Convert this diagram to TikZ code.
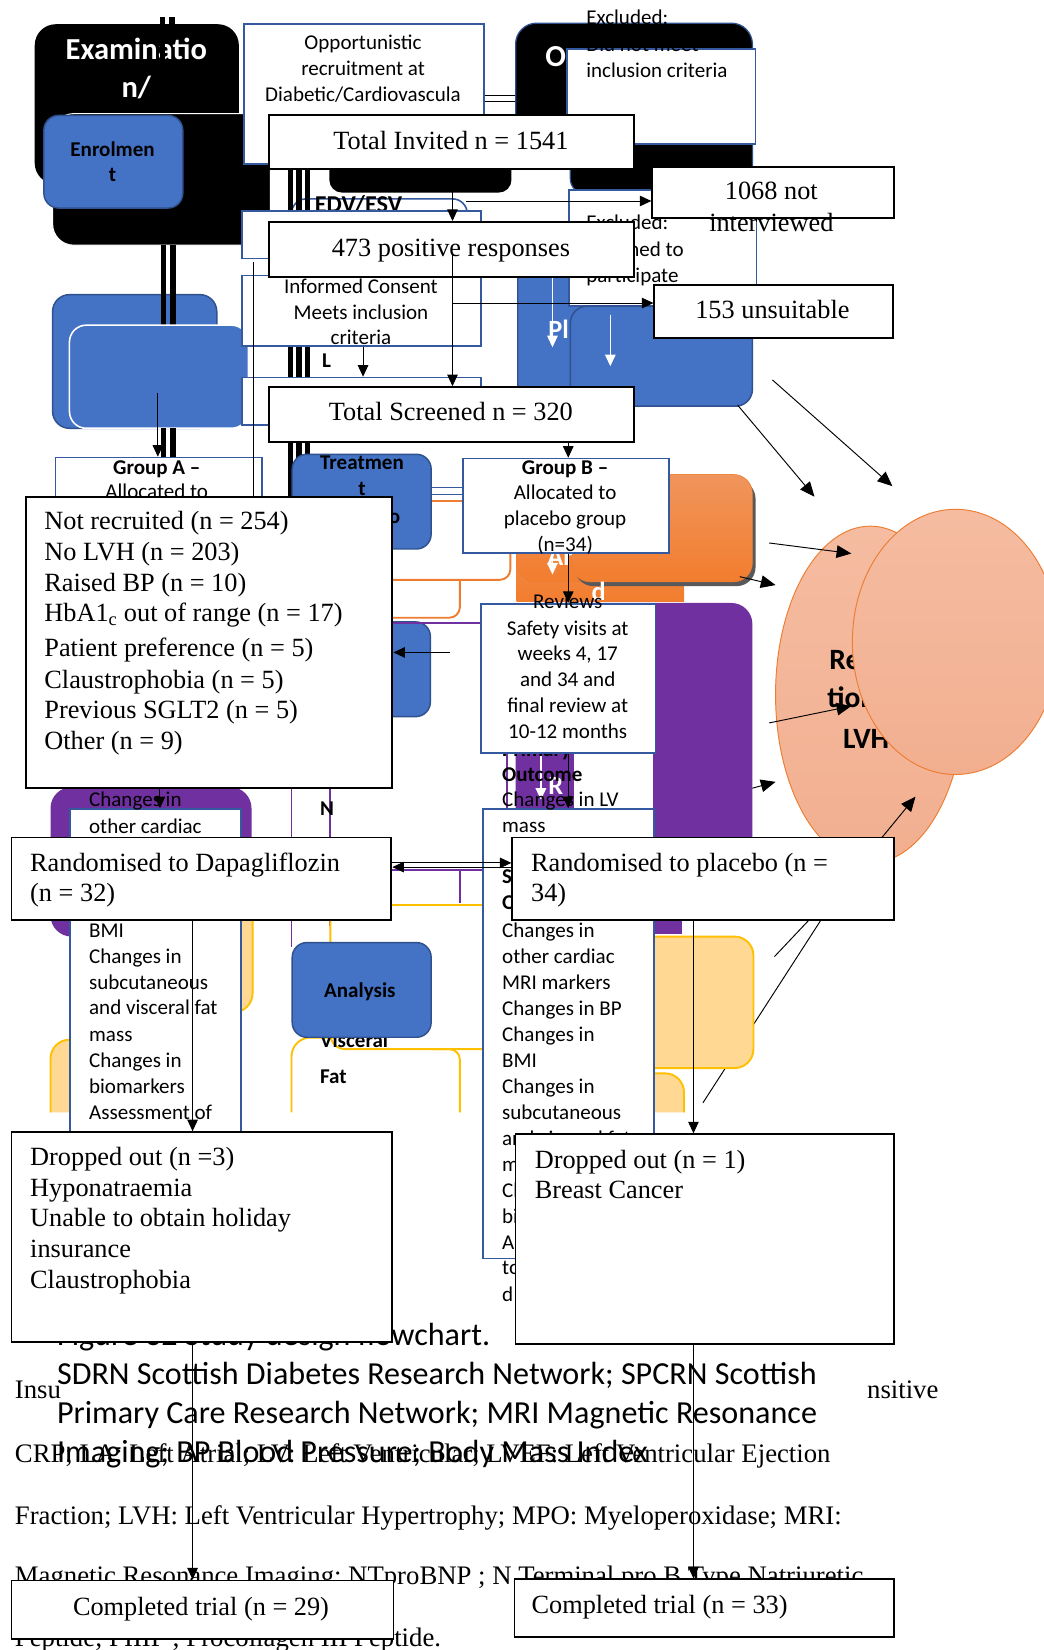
\documentclass[tikz,border=0pt]{standalone}
\usepackage{fontspec}
\setmainfont{Liberation Serif}
\newfontfamily\tmf{Liberation Serif}
\newfontfamily\cbf{Carlito}
\usetikzlibrary{arrows.meta}
\definecolor{blueC}{HTML}{4472C4}
\definecolor{bdark}{HTML}{2F528F}
\definecolor{bbord}{HTML}{35599E}
\definecolor{purp}{HTML}{7030A0}
\definecolor{orng}{HTML}{ED7D31}
\definecolor{orTop}{HTML}{F0955C}
\definecolor{orBot}{HTML}{F27D2E}
\definecolor{ylw}{HTML}{FFC000}
\definecolor{ylwF}{HTML}{FFD993}
\definecolor{salT}{HTML}{F5BCA1}
\definecolor{salB}{HTML}{F2AF90}
\tikzset{
 fbox/.style={draw=black,line width=1.8pt,fill=white,rectangle,inner sep=0pt,anchor=north west},
 bbox/.style={draw=bbord,line width=1.6pt,fill=white,rectangle,inner sep=0pt,anchor=north west},
 blubox/.style={fill=blueC,draw=bdark,line width=1.4pt,rounded corners=14pt,rectangle,inner sep=0pt,anchor=north west},
 tm/.style={font=\tmf\fontsize{25}{29.5}\selectfont,inner sep=0pt},
 tmp/.style={font=\tmf\fontsize{25.4}{29.5}\selectfont,inner sep=0pt},
 cb/.style={font=\cbf\fontsize{20}{24.7}\selectfont,inner sep=0pt},
 cbb/.style={font=\cbf\bfseries\fontsize{20}{24.7}\selectfont,inner sep=0pt},
 wb/.style={font=\cbf\bfseries\fontsize{29}{35}\selectfont,text=white,inner sep=0pt},
 wbs/.style={font=\cbf\bfseries\fontsize{25}{30}\selectfont,text=white,inner sep=0pt},
 kb/.style={font=\cbf\bfseries\fontsize{28}{34}\selectfont,inner sep=0pt},
 capf/.style={font=\cbf\fontsize{30.5}{37.5}\selectfont,inner sep=0pt},
 arr/.style={-{Triangle[length=11pt,width=10pt]},line width=0.9pt},
 barr/.style={-{Triangle[length=14pt,width=12pt]},line width=0.9pt},
 warr/.style={-{Triangle[length=11pt,width=10pt]},line width=1.2pt,draw=white,fill=white},
 blu/.style={fill=blueC,draw=bdark,line width=1.4pt,rounded corners=16pt},
 pl/.style={draw=purp,line width=1.8pt},
 yl/.style={draw=ylw,line width=1.8pt},
 ol/.style={draw=orng,line width=1.8pt},
 ell/.style={draw=orng,line width=0.9pt,top color=salT,bottom color=salB},
 thinl/.style={line width=0.9pt},
}
\newcommand\tmL[4]{\node[tm,anchor=base west] (#1) at (#2,#3+8) {#4};}
\newcommand\tmC[4]{\node[tm,anchor=base] (#1) at (#2,#3+8) {#4};}
\newcommand\cbL[4]{\node[cb,anchor=base west] (#1) at (#2,#3+6.5) {#4};}
\newcommand\cbC[4]{\node[cb,anchor=base] (#1) at (#2,#3+6.5) {#4};}
\newcommand\cbBL[4]{\node[cbb,anchor=base west] (#1) at (#2,#3+6.5) {#4};}
\newcommand\cbBC[4]{\node[cbb,anchor=base] (#1) at (#2,#3+6.5) {#4};}
\newcommand\tribars[2]{\fill[black] (274,#1) rectangle (278.5,#2); \fill[black] (281.5,#1) rectangle (287,#2); \fill[black] (290,#1) rectangle (295,#2);}
\begin{document}
\begin{tikzpicture}[x=1pt,y=-1pt]
\useasboundingbox (0,0) rectangle (992,1568);
\fill[white] (0,0) rectangle (992,1568);

% ---------- bottom paragraph (Times) ----------
\node[tmp,anchor=base west] (p1a) at (14,1329) {Insu};
\node[tmp,anchor=base east] (p1b) at (892,1329) {nsitive};
\node[tmp,anchor=base west] (p2) at (14,1390) {CRP; LA: Left Atrial; LV: Left Ventricular; LVEF: Left Ventricular Ejection};
\node[tmp,anchor=base west] (p3) at (14,1449) {Fraction; LVH: Left Ventricular Hypertrophy; MPO: Myeloperoxidase; MRI:};
\node[tmp,anchor=base west] (p4) at (14,1506) {Magnetic Resonance Imaging; NTproBNP ; N Terminal pro B Type Natriuretic};
\node[tmp,anchor=base west] (p5) at (14,1565) {Peptide; PIIIP ; Procollagen III Peptide.};

% ---------- caption ----------
\node[capf,anchor=base west] (c0) at (54,1279) {Figure 32 Study design flowchart.};
\node[capf,anchor=base west] (c1) at (54,1316) {SDRN Scottish Diabetes Research Network; SPCRN Scottish};
\node[capf,anchor=base west] (c2) at (54,1353) {Primary Care Research Network; MRI Magnetic Resonance};
\node[capf,anchor=base west] (c3) at (54,1390) {Imaging; BP Blood Pressure; Body Mass Index};

% ---------- top-left ----------
\fill[black,rounded corners=20pt] (33,23) rectangle (227,175);
\draw[fill=black,draw=white,line width=1pt,rounded corners=20pt] (50,108) rectangle (257,233);
\node[wb,anchor=base] (ex1) at (129.5,57) {Examinatio};
\node[wb,anchor=base] (ex2) at (129.5,93) {n/};
\fill[black] (152,16) rectangle (157,62);
\fill[black] (161,16) rectangle (166,28);
\node[blubox,minimum width=132pt,minimum height=88pt] (enr) at (41,109) {};
\cbBC{enr1}{107}{142.5}{Enrolmen}
\cbBC{enr2}{107}{166}{t}
\draw[blu] (50,280) rectangle (206,407);
\fill[black] (153,233) rectangle (158,309);
\fill[black] (162,233) rectangle (167,309);
\draw[fill=blueC,draw=white,line width=1.5pt,rounded corners=16pt] (66,309) rectangle (236,407);

% ---------- top-centre ----------
\node[bbox,minimum width=228pt,minimum height=133pt] (opp) at (231,22) {};
\cbC{opp1}{345}{41}{Opportunistic}
\cbC{opp2}{345}{65}{recruitment at}
\cbC{opp3}{345}{90}{Diabetic/Cardiovascula}
\coordinate (dl1) at (490,91);
\coordinate (dl2) at (490,96);
\draw[line width=0.8pt] (opp.east |- dl1) -- (dl1);
\draw[line width=0.8pt] (opp.east |- dl2) -- (dl2);
\fill[black,rounded corners=12pt] (313,140) rectangle (486,183);

% ---------- top-right ----------
\draw[fill=black,draw=bdark,line width=1.2pt,rounded corners=20pt] (490,22) rectangle (715,150);
\draw[fill=black,draw=bdark,line width=1.2pt,rounded corners=14pt] (542,100) rectangle (715,184);
\node[wb,anchor=base] (oo) at (528,63) {O};
\node[bbox,minimum width=179pt,minimum height=90pt] (exa) at (538,46) {};
\cbL{e11}{557}{17}{Excluded:}
\cbL{e12}{557}{42}{Did not meet}
\cbL{e13}{557}{67}{inclusion criteria}
\draw[blu] (492,230) rectangle (713,386);
\node[bbox,minimum width=178pt,minimum height=110pt] (exb) at (540,180) {};
\cbL{e21}{557}{212}{Excluded:}
\cbL{e22}{557}{237}{Declined to}
\cbL{e23}{557}{262}{participate}
\draw[blu] (542,291) rectangle (715,386);
\coordinate (wa1) at (525,250); \coordinate (wa2) at (525,330);
\draw[warr] (wa1) -- (wa2);
\coordinate (wa3) at (580,299); \coordinate (wa4) at (580,348);
\draw[warr] (wa3) -- (wa4);
\node[wbs,anchor=base west] (pli) at (521,322) {Pl};

% ---------- centre column background ----------
\draw[draw=bbord,fill=white,line width=1.5pt,rounded corners=14pt] (277,189) rectangle (444,300);
\node[font=\cbf\bfseries\fontsize{23}{28}\selectfont,inner sep=0pt,anchor=base west] (edv) at (299,202) {EDV/ESV};
\tribars{160}{201}
\node[bbox,minimum width=227pt,minimum height=45pt] (b473) at (229,200) {};
\node[bbox,minimum width=227pt,minimum height=67pt] (inf) at (229,261) {};
\cbC{inf1}{343}{272.5}{Informed Consent}
\cbC{inf2}{343}{297}{Meets inclusion}
\cbC{inf3}{343}{321}{criteria}
\tribars{330}{358}
\cbBL{ll}{306}{343}{L}
\node[bbox,minimum width=227pt,minimum height=45pt] (bscr) at (229,358) {};
\coordinate (xe) at (345,0);
\draw[arr] (inf.south -| xe) -- (bscr.north -| xe);

% ---------- group A / treatment ----------
\fill[black] (153,407) rectangle (158,434);
\fill[black] (162,407) rectangle (167,434);
\node[bbox,minimum width=196pt,minimum height=90pt] (grpA) at (52,434) {};
\cbBC{ga1}{149}{444.5}{Group A –}
\cbC{ga2}{149}{467.5}{Allocated to}
\coordinate (ga0) at (150,373);
\draw[arr] (ga0) -- (grpA.north -| ga0);
\tribars{418}{471}
\node[blubox,minimum width=132pt,minimum height=90pt] (trt) at (277,431) {};
\cbBC{tr1}{344}{440}{Treatmen}
\cbBC{tr2}{344}{464}{t}
\cbBC{tr3}{375}{491}{o}
\coordinate (bl1) at (439,463); \coordinate (bl2) at (439,470);
\draw[draw=bbord,line width=1.3pt] (trt.east |- bl1) -- (bl1);
\draw[draw=bbord,line width=1.3pt] (trt.east |- bl2) -- (bl2);
\coordinate (ol0) at (439,476);
\draw[ol] (trt.east |- ol0) -- (ol0);
\draw[ol,rounded corners=10pt] (372,551) -- (485,551) -- (485,515);
\draw[ol,rounded corners=10pt] (372,587) -- (437,587) -- (437,551);

% orange shape
\fill[top color=orTop,bottom color=orBot] (491,480) rectangle (650,572);
\draw[draw=orng,top color=orTop,bottom color=orBot,rounded corners=18pt] (491,451) rectangle (715,553);
\fill[black!65,rounded corners=18pt] (546,456) rectangle (718,557);
\draw[draw=orng,top color=orTop,bottom color=orBot,rounded corners=18pt] (543,451) rectangle (715,553);
\node[wbs,anchor=base west] (ar) at (520,537) {Ar};
\coordinate (wa5) at (525,520); \coordinate (wa6) at (525,546);
\draw[warr] (wa5) -- (wa6);
\node[wbs,anchor=base west] (dd) at (562,571) {d};
\node[bbox,minimum width=196pt,minimum height=90pt] (grpB) at (439,435) {};
\cbBC{gb1}{537}{444.5}{Group B –}
\cbC{gb2}{537}{468.5}{Allocated to}
\cbC{gb3}{537}{493}{placebo group}
\cbC{gb4}{537}{518}{(n=34)}

% blue box behind list and purple line
\draw[blu,rounded corners=14pt] (300,591) rectangle (409,681);
\draw[pl] (372,592) -- (456,592);

% ---------- right connectors lines and yellow (behind column box) ----------
\coordinate (ln1a) at (736,909); \coordinate (ln1b) at (770,873);
\coordinate (ln2a) at (668,1048); \coordinate (ln2b) at (781,873);
\draw[thinl] (ln1a) -- (ln1b);
\draw[thinl] (ln2a) -- (ln2b);
\draw[yl,fill=ylwF,rounded corners=18pt] (600,890) rectangle (716,1015);
\fill[ylwF] (600,1057) [rounded corners=18pt] -- (600,1020) -- (650,1020) [sharp corners] -- (650,1057) -- cycle;
\draw[yl,rounded corners=18pt] (600,1020) -- (650,1020) -- (650,1057);

% ---------- purple / right column ----------
\fill[purp,rounded corners=20pt] (490,573) rectangle (715,850);
\fill[purp] (600,790) rectangle (648,888);
\draw[draw=purp,line width=1.5pt] (482,690) -- (482,770);
\fill[white] (545,712) rectangle (621,768);
\coordinate (wa7) at (514,716); \coordinate (wa8) at (514,760);
\draw[warr] (wa7) -- (wa8);
\node[wbs,anchor=base west] (rr) at (521,755) {R};
\node[bbox,minimum width=163pt,minimum height=427pt] (rcol) at (458,768) {};
\cbBL{r0}{477}{712}{Primary}
\cbBL{r1}{477}{736}{Outcome}
\cbL{r2}{477}{760}{Changes in LV}
\cbL{r3}{477}{785}{mass}
\cbBL{r4}{477}{833}{Secondary}
\cbBL{r5}{477}{858}{Outcome}
\cbL{r6}{477}{884.5}{Changes in}
\cbL{r7}{477}{909}{other cardiac}
\cbL{r8}{477}{934}{MRI markers}
\cbL{r9}{477}{958.5}{Changes in BP}
\cbL{r10}{477}{983}{Changes in}
\cbL{r11}{477}{1008}{BMI}
\cbL{r12}{477}{1032.5}{Changes in}
\cbL{r13}{477}{1057}{subcutaneous}
\cbL{r14}{477}{1082}{and visceral fat}
\cbL{r15}{477}{1106.5}{mass}
\cbL{r16}{477}{1131}{Changes in}
\cbL{r17}{477}{1156}{biomarkers}
\cbL{r18}{477}{1180.5}{Assessment of}
\cbL{r19}{477}{1205}{to}
\cbL{r20}{477}{1230}{d}
\node[bbox,minimum width=166pt,minimum height=142pt] (saf) at (456,573) {};
\cbC{s1}{539.5}{597}{Safety visits at}
\cbC{s2}{539.5}{621}{weeks 4, 17}
\cbC{s3}{539.5}{645.5}{and 34 and}
\cbC{s4}{539.5}{671}{final review at}
\cbC{s5}{539.5}{695.5}{10-12 months}
\cbC{s0}{539.5}{572}{Reviews}

% ---------- left column ----------
\fill[purp,rounded corners=20pt] (48,748) rectangle (239,890);
\draw[yl,fill=ylwF,rounded corners=18pt] (150,850) rectangle (240,962);
\fill[ylwF] (48,1057) [rounded corners=18pt] -- (48,988) -- (120,988) [sharp corners] -- (120,1057) -- cycle;
\draw[yl,rounded corners=18pt] (48,1057) -- (48,988) -- (120,988);
\node[bbox,minimum width=162pt,minimum height=307pt] (lcol) at (66,768) {};
\cbL{l1}{84.5}{760}{Changes in}
\cbL{l2}{84.5}{785.5}{other cardiac}
\cbL{l3}{84.5}{810}{MRI markers}
\cbL{l4}{84.5}{834.5}{Changes in BP}
\cbL{l5}{84.5}{859}{Changes in}
\cbL{l6}{84.5}{884.5}{BMI}
\cbL{l7}{84.5}{909}{Changes in}
\cbL{l8}{84.5}{933.5}{subcutaneous}
\cbL{l9}{84.5}{958}{and visceral fat}
\cbL{l10}{84.5}{983}{mass}
\cbL{l11}{84.5}{1008}{Changes in}
\cbL{l12}{84.5}{1032.5}{biomarkers}
\cbL{l13}{84.5}{1057.5}{Assessment of}

% ---------- middle purple / yellow lines ----------
\draw[pl] (277,740) -- (277,900);
\draw[pl] (314,740) -- (314,880);
\draw[pl] (371,827) -- (458,827);
\draw[pl] (437,827) -- (437,858);
\draw[yl,rounded corners=14pt] (458,860) -- (314,860) -- (314,900);
\draw[yl,rounded corners=14pt] (458,997) -- (314,997) -- (314,975);
\draw[yl,rounded corners=10pt] (410,997) -- (437,997) -- (437,1057);
\draw[yl,rounded corners=18pt] (277,1057) -- (277,986) -- (320,986);
\node[font=\cbf\bfseries\fontsize{20}{24.7}\selectfont,inner sep=0pt,anchor=base west] (nn) at (304,775) {N};
\cbBL{vis}{304}{989}{Visceral}
\cbBL{fat}{304}{1023}{Fat}
\node[blubox,minimum width=132pt,minimum height=90pt] (ana) at (277,895) {};
\cbBC{an1}{342}{941}{Analysis}

% ---------- right side ----------
\draw[ell] (827,660) ellipse [x radius=90pt, y radius=160pt];
\node[kb,anchor=base west] (re1) at (788,636) {Reduc};
\node[kb,anchor=base west] (re2) at (786,672) {tion in};
\node[kb,anchor=base west] (re3) at (801,711) {LVH};
\draw[ell] (908,610) ellipse [x radius=98pt, y radius=126pt];

\coordinate (a1s) at (701,385); \coordinate (a1e) at (774,472);
\coordinate (a2s) at (734,361); \coordinate (a2e) at (848,462);
\coordinate (a3s) at (731,516); \coordinate (a3e) at (809,526);
\coordinate (a4s) at (703,548); \coordinate (a4e) at (737,556);
\coordinate (a5s) at (731,687); \coordinate (a5e) at (809,671);
\coordinate (a6s) at (715,749); \coordinate (a6e) at (737,743);
\coordinate (a7s) at (838,796); \coordinate (a7e) at (870,757);
\draw[barr] (a1s) -- (a1e);
\draw[barr] (a2s) -- (a2e);
\draw[barr] (a3s) -- (a3e);
\draw[barr] (a4s) -- (a4e);
\draw[barr] (a5s) -- (a5e);
\draw[barr] (a6s) -- (a6e);
\draw[barr] (a7s) -- (a7e);

% ---------- front flowchart ----------
\node[fbox,minimum width=347pt,minimum height=52pt] (inv) at (255,108) {};
\tmC{invt}{428.5}{134}{Total Invited n = 1541}
\node[fbox,minimum width=230pt,minimum height=48pt] (n1068) at (619,158) {};
\tmC{n1068a}{733}{182}{1068 not}
\tmC{n1068b}{733}{212}{interviewed}
\node[fbox,minimum width=347pt,minimum height=52pt] (pos) at (255,210) {};
\tmC{post}{428.5}{236}{473 positive responses}
\node[fbox,minimum width=227pt,minimum height=50pt] (uns) at (621,270) {};
\tmC{unst}{734}{295}{153 unsuitable}
\node[fbox,minimum width=347pt,minimum height=52pt] (scr) at (255,367) {};
\tmC{scrt}{428.5}{392}{Total Screened n = 320}
\node[fbox,minimum width=348pt,minimum height=277pt] (nr) at (24,471) {};
\tmL{nr1}{42}{495}{Not recruited (n = 254)}
\tmL{nr2}{42}{525}{No LVH (n = 203)}
\tmL{nr3}{42}{554}{Raised BP (n = 10)}
\tmL{nr4}{42}{583}{HbA1\textsubscript{c} out of range (n = 17)}
\tmL{nr5}{42}{616}{Patient preference (n = 5)}
\tmL{nr6}{42}{646}{Claustrophobia (n = 5)}
\tmL{nr7}{42}{675}{Previous SGLT2 (n = 5)}
\tmL{nr8}{42}{704}{Other (n = 9)}
\node[fbox,minimum width=361pt,minimum height=78pt] (rd) at (10,795) {};
\tmL{rd1}{28.5}{820}{Randomised to Dapagliflozin}
\tmL{rd2}{28.5}{849}{(n = 32)}
\node[fbox,minimum width=363pt,minimum height=78pt] (rp) at (486,795) {};
\tmL{rp1}{504.5}{820}{Randomised to placebo (n =}
\tmL{rp2}{504.5}{849}{34)}
\node[fbox,minimum width=362pt,minimum height=199pt] (do1) at (10,1075) {};
\tmL{d11}{28.5}{1100}{Dropped out (n =3)}
\tmL{d12}{28.5}{1129}{Hyponatraemia}
\tmL{d13}{28.5}{1158}{Unable to obtain holiday}
\tmL{d14}{28.5}{1187}{insurance}
\tmL{d15}{28.5}{1216}{Claustrophobia}
\node[fbox,minimum width=360pt,minimum height=199pt] (do2) at (489,1077) {};
\tmL{d21}{508}{1102}{Dropped out (n = 1)}
\tmL{d22}{508}{1131}{Breast Cancer}
\node[fbox,minimum width=363pt,minimum height=56pt] (ct1) at (10,1501) {};
\tmC{ct1t}{191}{1527}{Completed trial (n = 29)}
\node[fbox,minimum width=361pt,minimum height=55pt] (ct2) at (488,1500) {};
\tmL{ct2t}{505}{1525}{Completed trial (n = 33)}

% ---------- front connectors ----------
\coordinate (xa) at (430,0);
\coordinate (xb) at (540,0);
\coordinate (xc) at (183,0);
\coordinate (xd) at (659,0);
\coordinate (xh) at (152,0);
\draw[arr] (inv.south -| xa) -- (pos.north -| xa);
\coordinate (s1068) at (443,191);
\draw[arr] (s1068) -- (s1068 -| n1068.west);
\coordinate (s3) at (430,241);
\draw[arr] (s3) -- (scr.north -| xa);
\coordinate (s153) at (430,288);
\draw[arr] (s153) -- (s153 -| uns.west);
\draw[arr] (scr.south -| xb) -- (grpB.north -| xb);
\coordinate (g1) at (241,249);
\draw[thinl] (g1) -- (nr.north -| g1);
\coordinate (s7) at (428,620);
\draw[arr] (s7) -- (s7 -| nr.east);
\draw[arr] (nr.south -| xh) -- (lcol.north -| xh);
\draw[arr] (grpB.south -| xb) -- (saf.north -| xb);
\draw[arr] (saf.south -| xb) -- (rcol.north -| xb);
\coordinate (yd1) at (0,820); \coordinate (yd2) at (0,824);
\draw[arr] (rd.east |- yd1) -- (rp.west |- yd1);
\draw[arr] (rp.west |- yd2) -- (rd.east |- yd2);
\draw[arr] (rd.south -| xc) -- (do1.north -| xc);
\draw[arr] (do1.south -| xc) -- (ct1.north -| xc);
\draw[arr] (rp.south -| xd) -- (do2.north -| xd);
\draw[arr] (do2.south -| xd) -- (ct2.north -| xd);
\end{tikzpicture}
\end{document}
